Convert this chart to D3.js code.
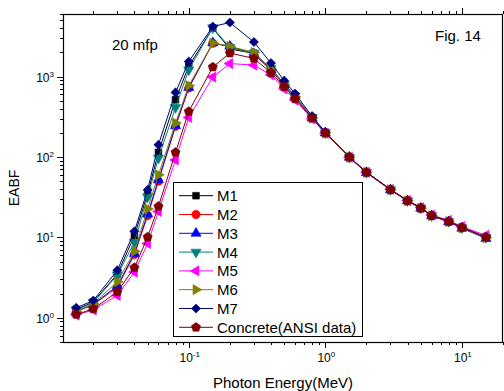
<!DOCTYPE html>
<html>
<head>
<meta charset="utf-8">
<script src="https://cdn.jsdelivr.net/npm/d3@7"></script>
<style>
    body { margin: 0; background: #fff; }
    svg { display: block; font-family: "Liberation Sans", Arial, sans-serif; }
</style>
</head>
<body>
<div id="chart"></div>
<script>
// DATA
const energies = [0.015, 0.02, 0.03, 0.04, 0.05, 0.06, 0.08, 0.1, 0.15, 0.2, 0.3, 0.4, 0.5, 0.6, 0.8, 1, 1.5, 2, 3, 4, 5, 6, 8, 10, 15];

const m1 = [1.27, 1.58, 3.5, 10.5, 35, 114, 515, 1350, 4000, 2200, 1950, 1260, 810, 575, 310, 201, 99, 64.5, 39.3, 28.6, 23.2, 18.7, 15.8, 13.2, 10.0];
const m2 = [1.2, 1.45, 2.4, 6.1, 18.7, 50, 240, 720, 2600, 2350, 1900, 1200, 780, 560, 305, 199, 99, 64, 39, 28.5, 23, 18.6, 15.7, 13.1, 9.9];
const m3 = [1.2, 1.47, 2.5, 6.3, 19.5, 52, 245, 730, 2620, 2380, 1920, 1210, 785, 560, 305, 199, 99, 64, 39, 28.4, 23, 18.5, 15.6, 13.0, 9.7];
const m4 = [1.25, 1.55, 3.4, 8.7, 32, 97, 413, 1213, 4050, 2300, 1950, 1250, 800, 570, 310, 200, 99, 64.5, 39.3, 28.6, 23.2, 18.7, 15.8, 13.2, 10.0];
const m5 = [1.08, 1.25, 1.9, 3.7, 8.4, 21, 92, 310, 986, 1450, 1390, 1050, 700, 510, 298, 197, 99, 64.5, 39.5, 28.8, 23.5, 19.0, 16.3, 13.6, 10.6];
const m6 = [1.2, 1.5, 2.8, 6.7, 22.6, 60, 264, 770, 2610, 2370, 2000, 1230, 790, 560, 305, 199, 99, 64.2, 39.2, 28.5, 23.1, 18.6, 15.7, 13.1, 9.9];
const m7 = [1.33, 1.64, 3.9, 11.9, 39, 142, 635, 1540, 4190, 4700, 2690, 1470, 890, 615, 322, 204, 100, 65, 39.5, 28.7, 23.3, 18.8, 15.9, 13.3, 10.1];
const concrete = [1.1, 1.29, 2.1, 4.2, 10.1, 24.3, 114, 368, 1313, 1960, 1680, 1115, 750, 530, 305, 199, 100, 64.4, 39.3, 28.6, 23.2, 18.7, 15.8, 13.3, 10.1];

const seriesNames = ['M1', 'M2', 'M3', 'M4', 'M5', 'M6', 'M7', 'Concrete(ANSI data)'];
const seriesValues = [m1, m2, m3, m4, m5, m6, m7, concrete];

const xTickExponents = [-1, 0, 1];
const yTickExponents = [0, 1, 2, 3];

// pentagon marker, d3 has none
const symbolPentagon = {
    draw(context, size) {
        const r = Math.sqrt(size / 2.378);
        for (let i = 0; i < 5; i++) {
            const a = -Math.PI / 2 + i * 2 * Math.PI / 5;
            const x = r * Math.cos(a), y = r * Math.sin(a);
            if (i === 0) context.moveTo(x, y); else context.lineTo(x, y);
        }
        context.closePath();
    }
};

const styles = [
    { color: '#000000', symbol: d3.symbolSquare, size: 45, rotate: 0 },
    { color: '#ff0000', symbol: d3.symbolCircle, size: 55, rotate: 0 },
    { color: '#0000ff', symbol: d3.symbolTriangle, size: 45, rotate: 0 },
    { color: '#008080', symbol: d3.symbolTriangle, size: 45, rotate: 180 },
    { color: '#ff00ff', symbol: d3.symbolTriangle, size: 45, rotate: -90 },
    { color: '#808000', symbol: d3.symbolTriangle, size: 45, rotate: 90 },
    { color: '#000080', symbol: d3.symbolSquare, size: 42, rotate: 45 },
    { color: '#800000', symbol: symbolPentagon, size: 55, rotate: 0 }
];

function render() {
    const W = 504, H = 391;
    const plot = { left: 63, right: 503, top: 14, bottom: 342 };

    const svg = d3.select('#chart').append('svg')
        .attr('width', W)
        .attr('height', H);

    const x = d3.scaleLog().domain([0.012, 20]).range([plot.left, plot.right]);
    const y = d3.scaleLog().domain([0.5, 6000]).range([plot.bottom, plot.top]);

    // tick values, major + minor
    function logTicks(scale) {
        const [lo, hi] = scale.domain();
        const out = [];
        for (let e = Math.floor(Math.log10(lo)); e <= Math.ceil(Math.log10(hi)); e++) {
            for (let k = 1; k <= 9; k++) {
                const v = k * Math.pow(10, e);
                if (v >= lo * 0.999 && v <= hi * 1.001) out.push({ v: v, major: k === 1 });
            }
        }
        return out;
    }

    const axisG = svg.append('g')
        .attr('stroke', '#000')
        .attr('stroke-width', 1);

    // bottom + top ticks (outward)
    logTicks(x).forEach(function (t) {
        const px = Math.round(x(t.v)) + 0.5;
        const len = t.major ? 6 : 3;
        axisG.append('line').attr('x1', px).attr('x2', px)
            .attr('y1', plot.bottom).attr('y2', plot.bottom + len);
        axisG.append('line').attr('x1', px).attr('x2', px)
            .attr('y1', plot.top).attr('y2', plot.top - len);
    });

    // left ticks
    logTicks(y).forEach(function (t) {
        const py = Math.round(y(t.v)) + 0.5;
        const len = t.major ? 6 : 3;
        axisG.append('line').attr('x1', plot.left - len).attr('x2', plot.left)
            .attr('y1', py).attr('y2', py);
    });

    // frame
    svg.append('rect')
        .attr('x', plot.left + 0.5)
        .attr('y', plot.top + 0.5)
        .attr('width', plot.right - plot.left - 1)
        .attr('height', plot.bottom - plot.top)
        .attr('fill', 'none')
        .attr('stroke', '#000')
        .attr('stroke-width', 1.2);

    // tick labels
    xTickExponents.forEach(function (e) {
        const t = svg.append('text')
            .attr('x', x(Math.pow(10, e)) + 1)
            .attr('y', 362)
            .attr('text-anchor', 'middle')
            .attr('font-size', 12);
        t.append('tspan').text('10');
        t.append('tspan').attr('dy', -5).attr('font-size', 8).text(e);
    });

    yTickExponents.forEach(function (e) {
        const t = svg.append('text')
            .attr('x', 54)
            .attr('y', y(Math.pow(10, e)) + 5)
            .attr('text-anchor', 'end')
            .attr('font-size', 12);
        t.append('tspan').text('10');
        t.append('tspan').attr('dy', -5).attr('font-size', 8).text(e);
    });

    // axis titles
    svg.append('text')
        .attr('x', (plot.left + plot.right) / 2)
        .attr('y', 388)
        .attr('text-anchor', 'middle')
        .attr('font-size', 15)
        .text('Photon Energy(MeV)');

    svg.append('text')
        .attr('transform', 'translate(19,188) rotate(-90)')
        .attr('text-anchor', 'middle')
        .attr('font-size', 14)
        .text('EABF');

    svg.append('text').attr('x', 112).attr('y', 50).attr('font-size', 15).text('20 mfp');
    svg.append('text').attr('x', 435).attr('y', 41).attr('font-size', 15).text('Fig. 14');

    // series
    const line = d3.line()
        .x(function (d) { return x(d[0]); })
        .y(function (d) { return y(d[1]); });

    seriesValues.forEach(function (vals, i) {
        const st = styles[i];
        const pts = energies.map(function (e, j) { return [e, vals[j]]; });
        const g = svg.append('g').attr('class', 'series');

        g.append('path')
            .attr('d', line(pts))
            .attr('fill', 'none')
            .attr('stroke', st.color)
            .attr('stroke-width', 1);

        g.selectAll('path.mark')
            .data(pts)
            .enter().append('path')
            .attr('class', 'mark')
            .attr('d', d3.symbol().type(st.symbol).size(st.size))
            .attr('transform', function (d) {
                return `translate(${x(d[0])},${y(d[1])}) rotate(${st.rotate})`;
            })
            .attr('fill', st.color)
            .attr('stroke', st.color)
            .attr('stroke-width', 0.6);
    });

    // legend
    const legend = svg.append('g').attr('class', 'legend');
    legend.append('rect')
        .attr('x', 173.5).attr('y', 182.5)
        .attr('width', 189).attr('height', 154)
        .attr('fill', '#fff')
        .attr('stroke', '#000')
        .attr('stroke-width', 1);

    seriesNames.forEach(function (name, i) {
        const st = styles[i];
        const ly = 195.7 + i * 18.8;
        legend.append('line')
            .attr('x1', 179).attr('x2', 213)
            .attr('y1', ly).attr('y2', ly)
            .attr('stroke', st.color)
            .attr('stroke-width', 1);
        legend.append('path')
            .attr('d', d3.symbol().type(st.symbol).size(st.size)())
            .attr('transform', `translate(196,${ly}) rotate(${st.rotate})`)
            .attr('fill', st.color)
            .attr('stroke', st.color)
            .attr('stroke-width', 0.6);
        legend.append('text')
            .attr('x', 217)
            .attr('y', ly + 5.5)
            .attr('font-size', 15)
            .text(name);
    });
}

window.onload = render;
</script>
</body>
</html>
